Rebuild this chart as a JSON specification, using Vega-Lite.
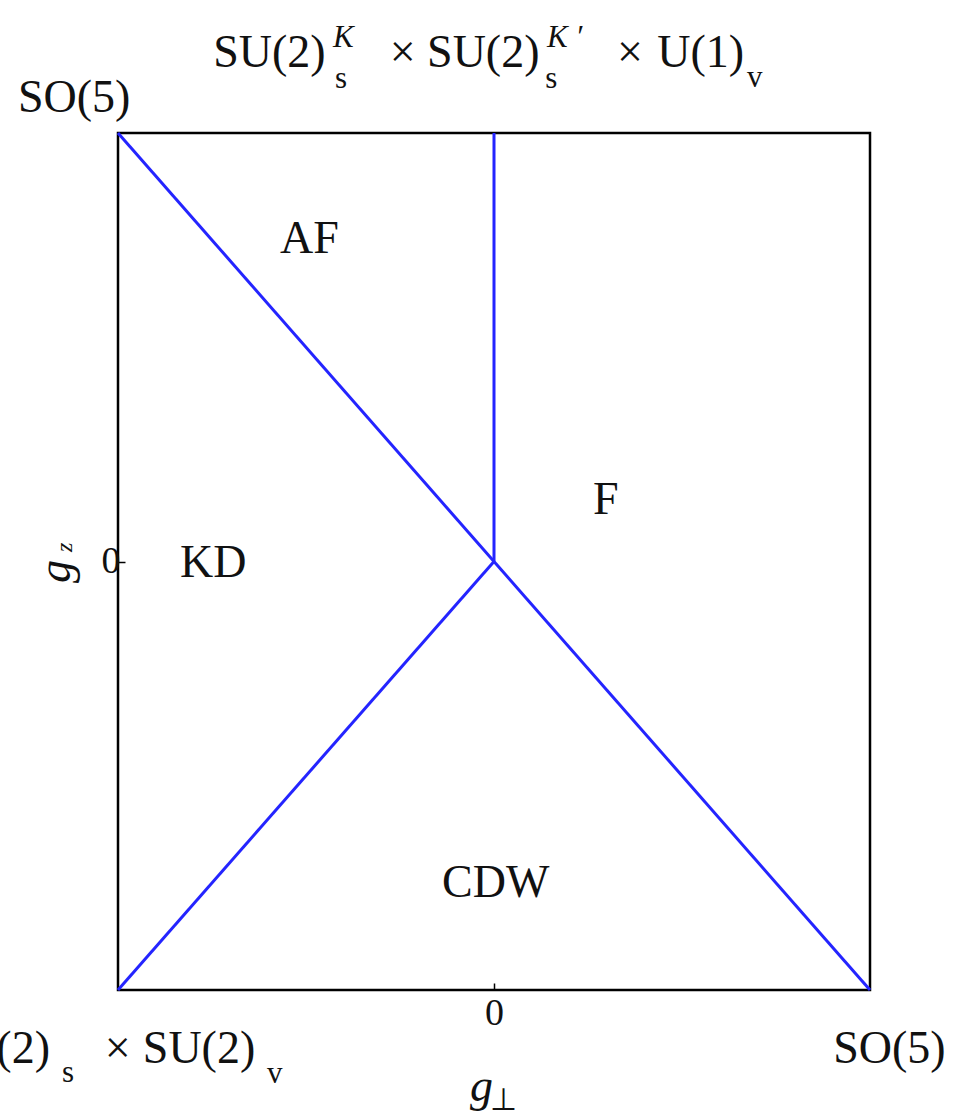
{
  "$schema": "https://vega.github.io/schema/vega-lite/v6.json",
  "width": 752,
  "height": 857,
  "autosize": {"type": "none"},
  "padding": {"left": 118, "top": 133, "right": 86, "bottom": 129},
  "background": "white",
  "config": {
    "view": {"stroke": "#000000", "strokeWidth": 2.5},
    "text": {"font": "Liberation Serif", "color": "#111111"},
    "axis": {
      "labelFont": "Liberation Serif",
      "labelFontSize": 38,
      "labelColor": "#111111",
      "tickColor": "#000000",
      "tickWidth": 1.5,
      "domain": false,
      "grid": false
    }
  },
  "datasets": {
    "boundaries": [
      {"gx": -1, "gz": 1, "gx2": 1, "gz2": -1},
      {"gx": 0, "gz": 0, "gx2": 0, "gz2": 1},
      {"gx": -1, "gz": -1, "gx2": 0, "gz2": 0}
    ],
    "textMain": [
      {"t": "SO(5)", "gx": -1.266, "gz": 1.049},
      {"t": "SU(2)", "gx": -0.747, "gz": 1.154},
      {"t": "×", "gx": -0.277, "gz": 1.154},
      {"t": "SU(2)", "gx": -0.178, "gz": 1.154},
      {"t": "×", "gx": 0.327, "gz": 1.154},
      {"t": "U(1)", "gx": 0.434, "gz": 1.154},
      {"t": "SU(2)", "gx": -1.48, "gz": -1.17},
      {"t": "×", "gx": -1.035, "gz": -1.17},
      {"t": "SU(2)", "gx": -0.934, "gz": -1.17},
      {"t": "SO(5)", "gx": 0.902, "gz": -1.17},
      {"t": "AF", "gx": -0.569, "gz": 0.72},
      {"t": "KD", "gx": -0.835, "gz": -0.036},
      {"t": "F", "gx": 0.263, "gz": 0.111},
      {"t": "CDW", "gx": -0.138, "gz": -0.783}
    ],
    "textSub": [
      {"t": "s", "gx": -0.423, "gz": 1.105},
      {"t": "s", "gx": 0.136, "gz": 1.105},
      {"t": "v", "gx": 0.673, "gz": 1.107},
      {"t": "s", "gx": -1.149, "gz": -1.215},
      {"t": "v", "gx": -0.604, "gz": -1.217},
      {"t": "⊥", "gx": -0.011, "gz": -1.28}
    ],
    "textSup": [
      {"t": "K", "gx": -0.428, "gz": 1.201},
      {"t": "K ′", "gx": 0.141, "gz": 1.201}
    ],
    "titleG": [
      {"t": "g", "gx": -0.064, "gz": -1.259}
    ],
    "titleGz": [
      {"t": "g", "gx": -1.128, "gz": -0.05}
    ],
    "titleGzSub": [
      {"t": "z", "gx": -1.122, "gz": 0.022}
    ]
  },
  "encoding": {
    "x": {
      "field": "gx",
      "type": "quantitative",
      "scale": {"domain": [-1, 1], "nice": false, "zero": false},
      "axis": {
        "values": [0],
        "title": null,
        "tickSize": -7,
        "labelFontSize": 38,
        "labelPadding": 11
      }
    },
    "y": {
      "field": "gz",
      "type": "quantitative",
      "scale": {"domain": [-1, 1], "nice": false, "zero": false},
      "axis": {
        "values": [0],
        "title": null,
        "tickSize": -7,
        "labelFontSize": 38,
        "labelPadding": 5
      }
    }
  },
  "layer": [
    {
      "data": {"name": "boundaries"},
      "mark": {"type": "rule", "color": "#2424ff", "strokeWidth": 3},
      "encoding": {"x2": {"field": "gx2"}, "y2": {"field": "gz2"}}
    },
    {
      "data": {"name": "textMain"},
      "mark": {"type": "text", "fontSize": 46, "align": "left", "baseline": "alphabetic"},
      "encoding": {"text": {"field": "t"}}
    },
    {
      "data": {"name": "textSub"},
      "mark": {"type": "text", "fontSize": 31, "align": "left", "baseline": "alphabetic"},
      "encoding": {"text": {"field": "t"}}
    },
    {
      "data": {"name": "textSup"},
      "mark": {"type": "text", "fontSize": 31, "fontStyle": "italic", "align": "left", "baseline": "alphabetic"},
      "encoding": {"text": {"field": "t"}}
    },
    {
      "data": {"name": "titleG"},
      "mark": {"type": "text", "fontSize": 46, "fontStyle": "italic", "align": "left", "baseline": "alphabetic"},
      "encoding": {"text": {"field": "t"}}
    },
    {
      "data": {"name": "titleGz"},
      "mark": {"type": "text", "fontSize": 46, "fontStyle": "italic", "angle": 270, "align": "left", "baseline": "alphabetic"},
      "encoding": {"text": {"field": "t"}}
    },
    {
      "data": {"name": "titleGzSub"},
      "mark": {"type": "text", "fontSize": 24, "fontStyle": "italic", "angle": 270, "align": "left", "baseline": "alphabetic"},
      "encoding": {"text": {"field": "t"}}
    }
  ]
}
